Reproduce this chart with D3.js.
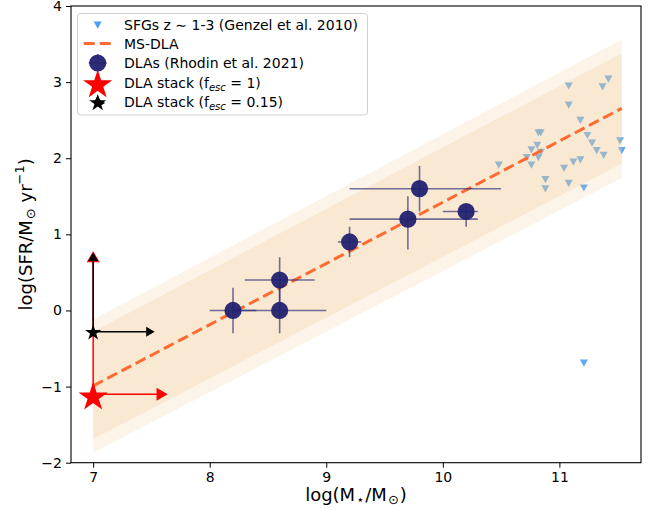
<!DOCTYPE html>
<html>
<head>
<meta charset="utf-8">
<script src="https://cdn.jsdelivr.net/npm/d3@7"></script>
<style>
  body { margin: 0; background: #fff; }
  text { font-family: "DejaVu Sans", sans-serif; fill: #000; }
</style>
</head>
<body>
<svg id="chart" width="657" height="510"></svg>
<script>
// SFGs z~1-3 (Genzel et al. 2010)
var sfg_x = [11.08, 11.42, 11.37, 11.08, 11.18, 10.82, 10.84, 11.24, 11.52, 10.81, 11.28, 10.76, 10.84,
             11.32, 11.535, 11.38, 10.72, 10.82, 11.18, 11.12, 10.76, 10.48, 11.04, 10.88, 11.08, 10.88, 11.21, 11.21];
var sfg_y = [2.95, 3.04, 2.94, 2.70, 2.50, 2.335, 2.335, 2.30, 2.23, 2.17, 2.20, 2.11, 2.08,
             2.10, 2.10, 2.04, 2.01, 2.01, 1.98, 1.95, 1.91, 1.91, 1.87, 1.72, 1.67, 1.60, 1.61, -0.69];

// MS-DLA fit and its bands (end points)
var ms_x = [7.0, 11.535];
var ms_y = [-0.99, 2.656];
var inner_lo = [-1.69, 1.93];
var inner_hi = [-0.28, 3.38];
var outer_lo = [-1.87, 1.74];
var outer_hi = [-0.12, 3.56];

// DLAs (Rhodin et al. 2021)
var dla_x = [8.2, 8.6, 8.6, 9.2, 9.7, 9.8, 10.2];
var dla_y = [0.0, 0.0, 0.4, 0.9, 1.2, 1.6, 1.3];
var dla_xlo = [0.2, 0.4, 0.3, 0.1, 0.5, 0.6, 0.2];
var dla_xhi = [0.2, 0.4, 0.3, 0.1, 0.6, 0.7, 0.1];
var dla_ylo = [0.3, 0.3, 0.3, 0.2, 0.4, 0.3, 0.2];
var dla_yhi = [0.3, 0.3, 0.3, 0.2, 0.3, 0.3, 0.1];

// DLA stacks (lower limits)
var stack_x = [7.0, 7.0];
var stack_y = [-1.1, -0.28];
var stack_xend = [7.6, 7.5];
var stack_yend = [0.72, 0.72];

var x_ticks = [7, 8, 9, 10, 11];
var y_ticks = [-2, -1, 0, 1, 2, 3, 4];

var LEFT = 71, RIGHT = 641, TOP = 6, BOTTOM = 462.7;

var svg = d3.select('#chart');

var x = d3.scaleLinear().domain([6.81, 11.70]).range([LEFT, RIGHT]);
var y = d3.scaleLinear().domain([-2, 4]).range([BOTTOM, TOP]);

var plot = svg.append('g');

// SFG markers (drawn under the bands)
var tri_down = 'M-4,-3.5L4,-3.5L0,3.7Z';
plot.selectAll('.sfg')
	.data(sfg_x.map(function(d, i) { return {x: d, y: sfg_y[i]}; }))
	.enter().append('path')
	.attr('class', 'sfg')
	.attr('d', tri_down)
	.attr('transform', function(d) { return 'translate(' + x(d.x) + ',' + y(d.y) + ')'; })
	.attr('fill', '#4aa0f2')
	.attr('opacity', 0.9);

// bands
function band(lo, hi)
{
	var pts = ms_x.map(function(d, i) { return {x: d, lo: lo[i], hi: hi[i]}; });
	return d3.area().x(function(d) { return x(d.x); })
		.y0(function(d) { return y(d.lo); })
		.y1(function(d) { return y(d.hi); })(pts);
}
plot.append('path').attr('d', band(outer_lo, outer_hi)).attr('fill', 'rgb(238,200,145)').attr('fill-opacity', 0.2);
plot.append('path').attr('d', band(inner_lo, inner_hi)).attr('fill', 'rgb(238,200,145)').attr('fill-opacity', 0.26);

// MS-DLA line
plot.append('path')
	.attr('d', d3.line().x(function(d) { return x(d); }).y(function(d, i) { return y(ms_y[i]); })(ms_x))
	.attr('fill', 'none')
	.attr('stroke', '#ff6a30')
	.attr('stroke-width', 3)
	.attr('stroke-dasharray', '11,5');

// DLA error bars and points
var err_col = 'rgba(40,40,120,0.65)';
dla_x.forEach(function(d, i)
{
	plot.append('line')
		.attr('x1', x(d - dla_xlo[i])).attr('x2', x(d + dla_xhi[i]))
		.attr('y1', y(dla_y[i])).attr('y2', y(dla_y[i]))
		.attr('stroke', err_col).attr('stroke-width', 1.6);
	plot.append('line')
		.attr('x1', x(d)).attr('x2', x(d))
		.attr('y1', y(dla_y[i] - dla_ylo[i])).attr('y2', y(dla_y[i] + dla_yhi[i]))
		.attr('stroke', err_col).attr('stroke-width', 1.6);
});
plot.selectAll('.dla')
	.data(dla_x.map(function(d, i) { return {x: d, y: dla_y[i]}; }))
	.enter().append('circle')
	.attr('class', 'dla')
	.attr('cx', function(d) { return x(d.x); })
	.attr('cy', function(d) { return y(d.y); })
	.attr('r', 8.6)
	.attr('fill', '#222270')
	.attr('fill-opacity', 0.95);

// stacks with limit arrows
var stack_col = ['#ff0000', '#000000'];
var star_size = [265, 80];
var caret_w = [13, 10];
function caret(w, dir)
{
	var h = w * 0.85;
	if(dir == 'up') return 'M0,' + (-h / 2) + 'L' + (w / 2) + ',' + (h / 2) + 'L' + (-w / 2) + ',' + (h / 2) + 'Z';
	return 'M' + (h / 2) + ',0L' + (-h / 2) + ',' + (w / 2) + 'L' + (-h / 2) + ',' + (-w / 2) + 'Z';
}
stack_x.forEach(function(d, i)
{
	var g = plot.append('g');
	g.append('line')
		.attr('x1', x(d)).attr('x2', x(d))
		.attr('y1', y(stack_y[i])).attr('y2', y(stack_yend[i]))
		.attr('stroke', stack_col[i]).attr('stroke-width', 1.5);
	g.append('line')
		.attr('x1', x(d)).attr('x2', x(stack_xend[i]))
		.attr('y1', y(stack_y[i])).attr('y2', y(stack_y[i]))
		.attr('stroke', stack_col[i]).attr('stroke-width', 1.5);
	g.append('path').attr('d', caret(caret_w[i], 'up'))
		.attr('transform', 'translate(' + x(d) + ',' + (y(stack_yend[i]) + 1) + ')')
		.attr('fill', stack_col[i]);
	g.append('path').attr('d', caret(caret_w[i], 'right'))
		.attr('transform', 'translate(' + (x(stack_xend[i]) - 1) + ',' + y(stack_y[i]) + ')')
		.attr('fill', stack_col[i]);
	g.append('path').attr('d', d3.symbol().type(d3.symbolStar).size(star_size[i])())
		.attr('transform', 'translate(' + x(d) + ',' + (y(stack_y[i]) + star_size[i] / 90) + ')')
		.attr('fill', stack_col[i]);
});

// frame
plot.append('rect')
	.attr('x', LEFT).attr('y', TOP)
	.attr('width', RIGHT - LEFT).attr('height', BOTTOM - TOP)
	.attr('fill', 'none').attr('stroke', '#000').attr('stroke-width', 1.1);

// axes
var x_axis = svg.append('g')
	.attr('transform', 'translate(0,' + BOTTOM + ')')
	.call(d3.axisBottom(x).tickValues(x_ticks).tickSize(5).tickPadding(4).tickFormat(d3.format('d')));
var y_axis = svg.append('g')
	.attr('transform', 'translate(' + LEFT + ',0)')
	.call(d3.axisLeft(y).tickValues(y_ticks).tickSize(5).tickPadding(4).tickFormat(function(d) { return d < 0 ? '\u2212' + Math.abs(d) : d; }));
[x_axis, y_axis].forEach(function(a)
{
	a.select('.domain').remove();
	a.selectAll('text').attr('font-size', 14).attr('font-family', 'DejaVu Sans').attr('fill', '#000');
	a.selectAll('line').attr('stroke', '#000');
});

// axis labels
var xl = svg.append('text')
	.attr('x', (LEFT + RIGHT) / 2).attr('y', 501)
	.attr('text-anchor', 'middle').attr('font-size', 18);
xl.append('tspan').text('log(M');
xl.append('tspan').text('\u22c6').attr('font-size', 13).attr('dy', 3).attr('dx', 1);
xl.append('tspan').text('/M').attr('dy', -3).attr('dx', 1);
xl.append('tspan').text('\u2299').attr('font-size', 13).attr('dy', 3).attr('dx', 1);
xl.append('tspan').text(')').attr('dy', -3).attr('dx', 1);

var yl = svg.append('text')
	.attr('transform', 'translate(32,' + ((TOP + BOTTOM) / 2) + ') rotate(-90)')
	.attr('text-anchor', 'middle').attr('font-size', 18);
yl.append('tspan').text('log(SFR/M');
yl.append('tspan').text('\u2299').attr('font-size', 13).attr('dy', 3).attr('dx', 1);
yl.append('tspan').text(' yr').attr('dy', -3);
yl.append('tspan').text('\u22121').attr('font-size', 13).attr('dy', -8);
yl.append('tspan').text(')').attr('dy', 8);

// legend
var leg = svg.append('g');
leg.append('rect')
	.attr('x', 77.5).attr('y', 13.5).attr('width', 290).attr('height', 101.5)
	.attr('rx', 3).attr('fill', '#fff').attr('fill-opacity', 0.8)
	.attr('stroke', '#d0d0d0').attr('stroke-width', 1);

var leg_y = [25, 43.5, 63, 82.5, 102];
var mx = 97.7, tx = 124;
leg.append('path').attr('d', tri_down)
	.attr('transform', 'translate(' + mx + ',' + leg_y[0] + ')').attr('fill', '#4aa0f2');
leg.append('line').attr('x1', mx - 14).attr('x2', mx + 14).attr('y1', leg_y[1]).attr('y2', leg_y[1])
	.attr('stroke', '#ff6a30').attr('stroke-width', 3).attr('stroke-dasharray', '11,5');
leg.append('line').attr('x1', mx - 9).attr('x2', mx + 9).attr('y1', leg_y[2]).attr('y2', leg_y[2])
	.attr('stroke', err_col).attr('stroke-width', 1.6);
leg.append('line').attr('x1', mx).attr('x2', mx).attr('y1', leg_y[2] - 9).attr('y2', leg_y[2] + 9)
	.attr('stroke', err_col).attr('stroke-width', 1.6);
leg.append('circle').attr('cx', mx).attr('cy', leg_y[2]).attr('r', 8.6).attr('fill', '#222270').attr('fill-opacity', 0.95);
leg.append('path').attr('d', d3.symbol().type(d3.symbolStar).size(265)())
	.attr('transform', 'translate(' + mx + ',' + (leg_y[3] + 2.5) + ')').attr('fill', '#ff0000');
leg.append('path').attr('d', caret(8, 'up'))
	.attr('transform', 'translate(' + mx + ',' + (leg_y[4] - 3) + ')').attr('fill', '#000');
leg.append('path').attr('d', caret(8, 'right'))
	.attr('transform', 'translate(' + (mx + 4) + ',' + (leg_y[4] + 1) + ')').attr('fill', '#000');
leg.append('path').attr('d', d3.symbol().type(d3.symbolStar).size(90)())
	.attr('transform', 'translate(' + mx + ',' + (leg_y[4] + 1) + ')').attr('fill', '#000');

var leg_labels = [
	[['SFGs z \u223c 1-3 (Genzel et al. 2010)', 0]],
	[['MS-DLA', 0]],
	[['DLAs (Rhodin et al. 2021)', 0]],
	[['DLA stack (f', 0], ['esc', 1], [' = 1)', 2]],
	[['DLA stack (f', 0], ['esc', 1], [' = 0.15)', 2]]
];
leg_labels.forEach(function(parts, i)
{
	var t = leg.append('text').attr('x', tx).attr('y', leg_y[i] + 5).attr('font-size', 14);
	parts.forEach(function(p)
	{
		var s = t.append('tspan').text(p[0]);
		if(p[1] == 1) s.attr('font-size', 10).attr('font-style', 'italic').attr('dy', 3);
		if(p[1] == 2) s.attr('dy', -3);
	});
});
</script>
</body>
</html>
